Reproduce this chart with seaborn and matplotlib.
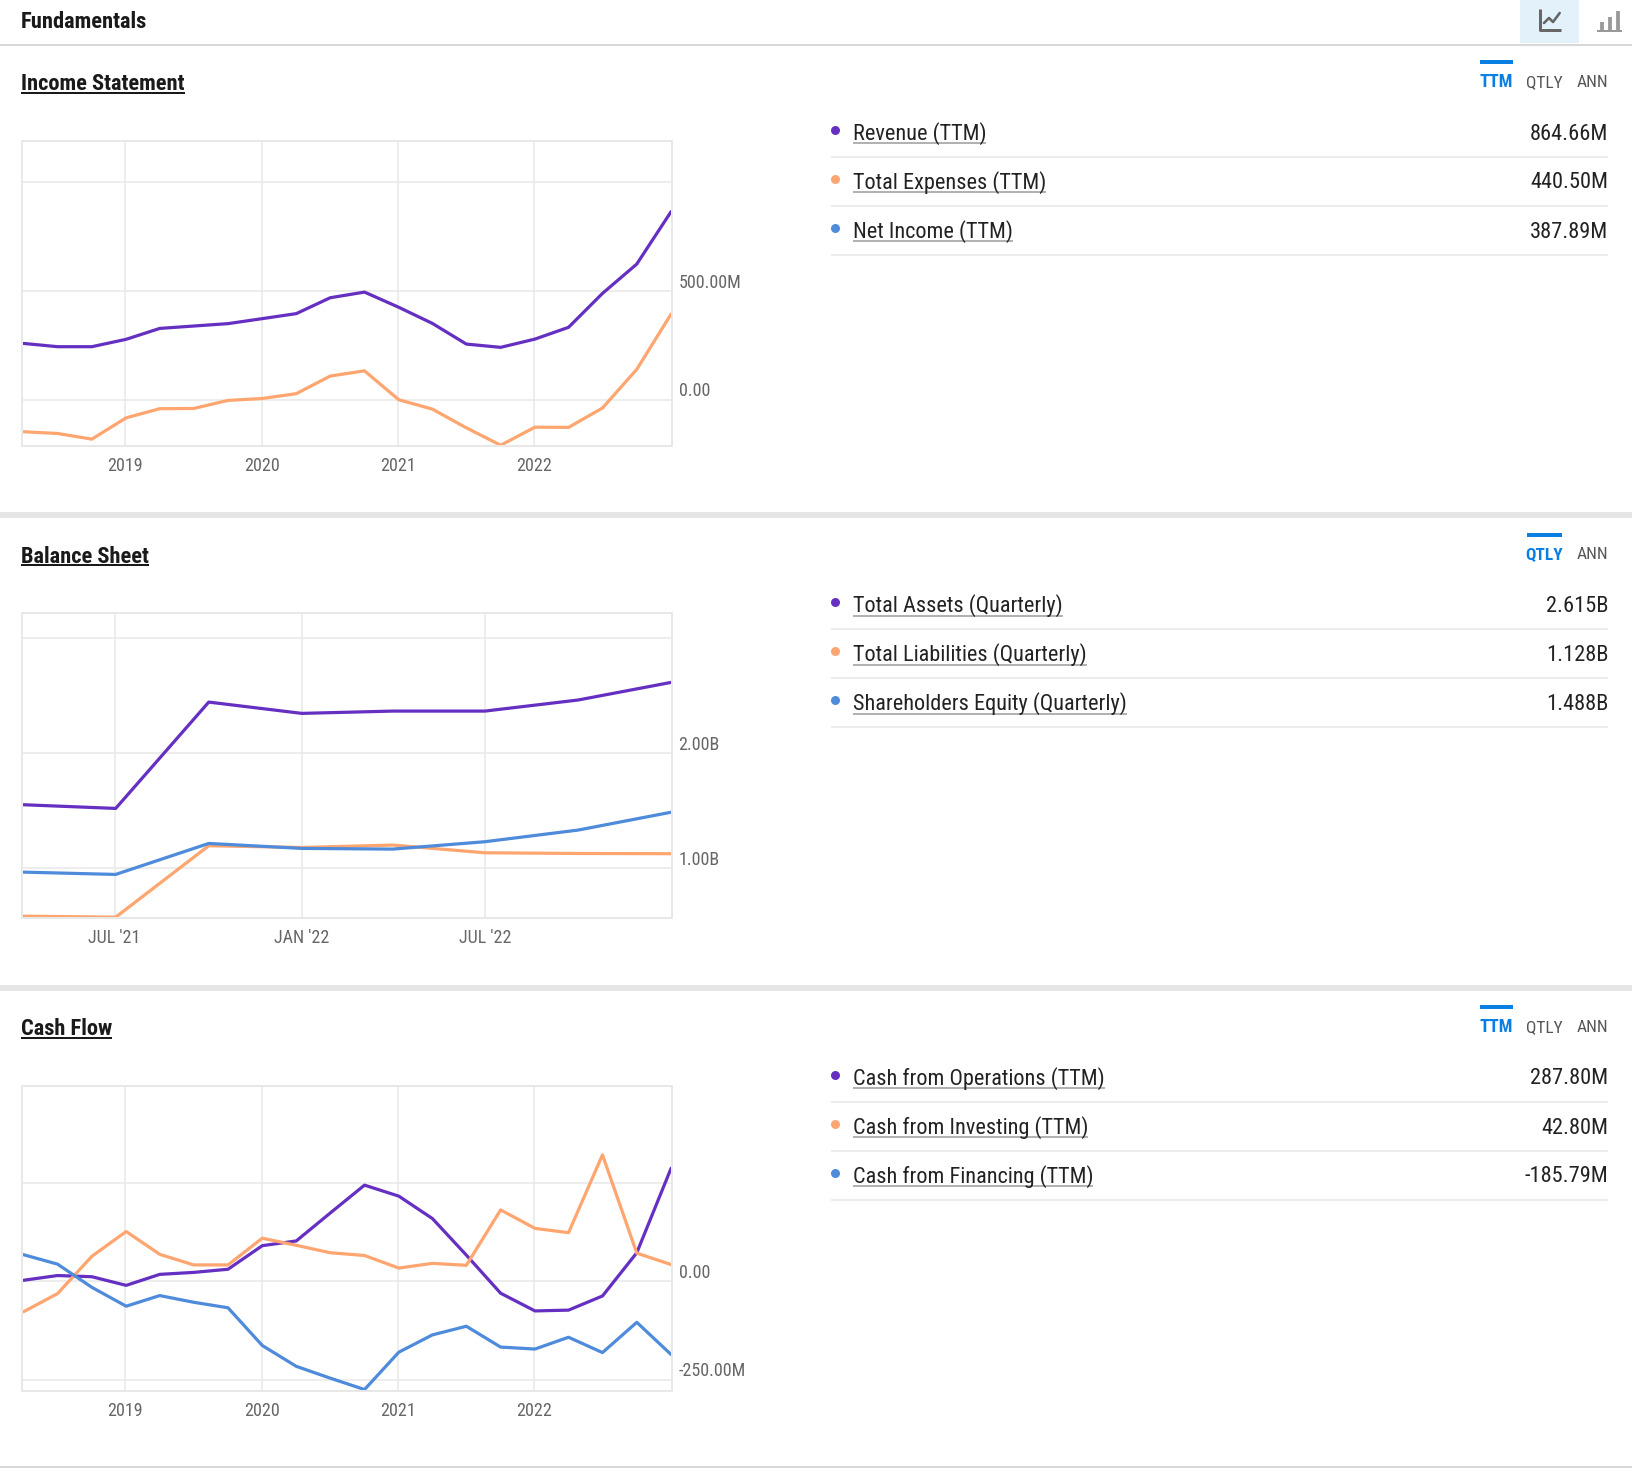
import matplotlib
matplotlib.use("Agg")
import matplotlib.pyplot as plt
from matplotlib.patches import Rectangle
from matplotlib.transforms import ScaledTranslation
import pandas as pd
import seaborn as sns

sns.set_theme(style="white")
FONT = ["Roboto Condensed", "Archivo Narrow", "Roboto", "DejaVu Sans"]
plt.rcParams["font.family"] = FONT

PURPLE = "#652fc2"
ORANGE = "#ffa56f"
BLUE = "#4f8bdb"
GRID = "#e8e8e8"

# ---- data ----
ttm_dates = ["2018-03-31", "2018-06-30", "2018-09-30", "2018-12-31",
             "2019-03-31", "2019-06-30", "2019-09-30", "2019-12-31",
             "2020-03-31", "2020-06-30", "2020-09-30", "2020-12-31",
             "2021-03-31", "2021-06-30", "2021-09-30", "2021-12-31",
             "2022-03-31", "2022-06-30", "2022-09-30", "2022-12-31"]
qtr_dates = ["2021-03-31", "2021-06-30", "2021-09-30", "2021-12-31",
             "2022-03-31", "2022-06-30", "2022-09-30", "2022-12-31"]

revenue = [259, 244, 244, 278, 328, 339, 350, 373, 396, 469,
           495, 425, 351, 256, 241, 279, 333, 489, 624, 865]
expenses = [-147, -155, -181, -83, -41, -40, -3, 6, 28, 109,
            133, 0, -43, -129, -209, -126, -127, -38, 140, 394]

assets = [1.553, 1.521, 2.444, 2.346, 2.366, 2.366, 2.462, 2.615]
liabilities = [0.586, 0.577, 1.197, 1.182, 1.203, 1.136, 1.130, 1.128]
equity = [0.968, 0.948, 1.217, 1.174, 1.168, 1.232, 1.333, 1.488]

cfo = [3, 15, 12, -10, 18, 23, 31, 91, 103, 174,
       245, 217, 160, 67, -30, -75, -73, -37, 73, 288]
cfi = [-77, -31, 64, 127, 69, 42, 42, 110, 92, 73,
       66, 34, 46, 41, 182, 135, 124, 322, 72, 43]
cff = [68, 44, -15, -63, -36, -53, -67, -163, -216, -246,
       -275, -180, -136, -114, -167, -172, -142, -181, -104, -186]

year_ticks = ["2018-12-28", "2019-12-30", "2020-12-29", "2021-12-29"]
year_labels = ["2019", "2020", "2021", "2022"]
qtr_ticks = ["2021-06-29", "2021-12-31", "2022-06-30"]
qtr_labels = ["JUL '21", "JAN '22", "JUL '22"]

income_yticks = [1000, 500, 0]
income_ylabels = ["", "500.00M", "0.00"]
balance_yticks = [3, 2, 1]
balance_ylabels = ["", "2.00B", "1.00B"]
cash_yticks = [250, 0, -250]
cash_ylabels = ["", "0.00", "-250.00M"]

income_rows = [("Revenue (TTM)", "864.66M"), ("Total Expenses (TTM)", "440.50M"),
               ("Net Income (TTM)", "387.89M")]
balance_rows = [("Total Assets (Quarterly)", "2.615B"), ("Total Liabilities (Quarterly)", "1.128B"),
                ("Shareholders Equity (Quarterly)", "1.488B")]
cash_rows = [("Cash from Operations (TTM)", "287.80M"), ("Cash from Investing (TTM)", "42.80M"),
             ("Cash from Financing (TTM)", "-185.79M")]

W, H = 1632, 1480
fig = plt.figure(figsize=(W / 100, H / 100), dpi=100, facecolor="white")
bg = fig.add_axes([0, 0, 1, 1])
bg.set_xlim(0, W)
bg.set_ylim(H, 0)
bg.axis("off")


def px(v):
    return v * 72 / 100


def hline(y, x0=0, x1=W, color="#cccccc", lw=1.5):
    bg.plot([x0, x1], [y, y], color=color, lw=px(lw), solid_capstyle="butt")


def label(x, y, s, size=16, color="#222222", weight="normal", ha="left"):
    return bg.text(x, y, s, fontsize=size, color=color, fontweight=weight,
                   ha=ha, va="baseline")


def underline(t, y, color, lw):
    box = t.get_window_extent(fig.canvas.get_renderer())
    hline(y, box.x0, box.x1, color=color, lw=lw)


def chart(top, dates, series, ticks, tick_labels, yticks, ylabels, ylim):
    left, right, bottom = 22, 672, top + 305.4
    ax = fig.add_axes([left / W, 1 - bottom / H, (right - left) / W, (bottom - top) / H])
    frames = [pd.DataFrame({"date": pd.to_datetime(dates), "value": v, "series": n})
              for n, v in series]
    df = pd.concat(frames, ignore_index=True)
    names = [n for n, _ in series]
    sns.lineplot(data=df, x="date", y="value", hue="series", hue_order=names,
                 palette=dict(zip(names, [PURPLE, ORANGE, BLUE])), legend=False,
                 ax=ax, linewidth=px(3.2), errorbar=None, sort=False)
    d0, d1 = pd.Timestamp(dates[0]), pd.Timestamp(dates[-1])
    span = d1 - d0
    ax.set_xlim(d0 - span * (1.6 / 647), d1 + span * (0.9 / 647))
    ax.set_ylim(*ylim)
    ax.set_xticks(pd.to_datetime(ticks))
    ax.set_xticklabels(tick_labels)
    ax.set_yticks(yticks)
    ax.set_yticklabels(ylabels)
    ax.yaxis.tick_right()
    ax.set_xlabel("")
    ax.set_ylabel("")
    ax.grid(True, color=GRID, lw=px(1.5))
    ax.set_axisbelow(True)
    for s in ax.spines.values():
        s.set_visible(True)
        s.set_color(GRID)
        s.set_linewidth(px(2))
    ax.tick_params(axis="x", length=0, pad=8, labelsize=13, labelcolor="#666666")
    ax.tick_params(axis="y", length=0, pad=4.7, labelsize=13, labelcolor="#666666")
    down = ScaledTranslation(0, -0.5 / 100, fig.dpi_scale_trans)
    for t in ax.get_yticklabels():
        t.set_va("bottom")
        t.set_transform(t.get_transform() + down)
    return ax


def tabs(off, items):
    centers = {"TTM": 1496.6, "QTLY": 1544.5, "ANN": 1592}
    for name in items:
        active = name == items[0]
        label(centers[name], (87.3 if active else 86.7) + off, name,
              size=(13 if name == "TTM" else 12.5) if active else 12.5,
              color="#0a7fe3" if active else "#555555",
              weight="bold" if active else "normal", ha="center")
    half = {"TTM": 16.5, "QTLY": 17.5}[items[0]]
    c = centers[items[0]]
    bg.add_patch(Rectangle((c - half, 60 + off), 2 * half, 4, color="#0a7fe3", lw=0))


def rows(off, items):
    for i, (name, val) in enumerate(items):
        yb = 139.5 + off + 49 * i
        bg.scatter([835], [yb - 10], s=px(9) ** 2, color=[PURPLE, ORANGE, BLUE][i], lw=0, zorder=3)
        t = label(852.8, yb, name, size=16.05, color="#222222")
        underline(t, yb + 3.5, "#aaaaaa", 1.8)
        label(1608.5, yb, val, size=16.1, color="#222222", ha="right")
        hline(yb + 17, 830.8, 1608, color="#e6e6e6", lw=1.5)


# page furniture
hline(45.3)
bg.add_patch(Rectangle((1520.4, 0), 58.4, 43, color="#e3f1fb", lw=0))
label(21, 28, "Fundamentals", size=16.2, color="#1a1a1a", weight="bold")

# icons
bg.plot([1539.5, 1539.5, 1560.7], [9, 29.7, 29.7], color="#666666", lw=px(3), solid_capstyle="butt")
bg.plot([1544, 1549, 1553, 1559.7], [23, 18, 22, 13], color="#666666", lw=px(2.6))
for x0, y0 in [(1602, 21.7), (1610, 17.3), (1617.5, 11)]:
    bg.plot([x0, x0], [y0, 31], color="#999999", lw=px(3.8), solid_capstyle="butt")
hline(31, 1597, 1622, color="#999999", lw=2)

for y0, y1 in [(512, 518), (985, 991)]:
    bg.add_patch(Rectangle((0, y0), W, y1 - y0, color="#e5e5e5", lw=0))
hline(1467)

sections = [
    (0, "Income Statement", ["TTM", "QTLY", "ANN"], income_rows),
    (472.5, "Balance Sheet", ["QTLY", "ANN"], balance_rows),
    (945, "Cash Flow", ["TTM", "QTLY", "ANN"], cash_rows),
]
for off, title, tab_items, row_items in sections:
    t = label(21, 90.2 + off, title, size=16.2, color="#1a1a1a", weight="bold")
    underline(t, 92.7 + off, "#1a1a1a", 2)
    tabs(off, tab_items)
    rows(off, row_items)

chart(140.7, ttm_dates, [("rev", revenue), ("exp", expenses)],
      year_ticks, year_labels, income_yticks, income_ylabels, (-213, 1191))
chart(612.7, qtr_dates, [("assets", assets), ("liab", liabilities), ("eq", equity)],
      qtr_ticks, qtr_labels, balance_yticks, balance_ylabels, (0.569, 3.22))
chart(1085.7, ttm_dates, [("cfo", cfo), ("cfi", cfi), ("cff", cff)],
      year_ticks, year_labels, cash_yticks, cash_ylabels, (-279, 498))

fig.savefig("out.png", dpi=100, facecolor="white")
